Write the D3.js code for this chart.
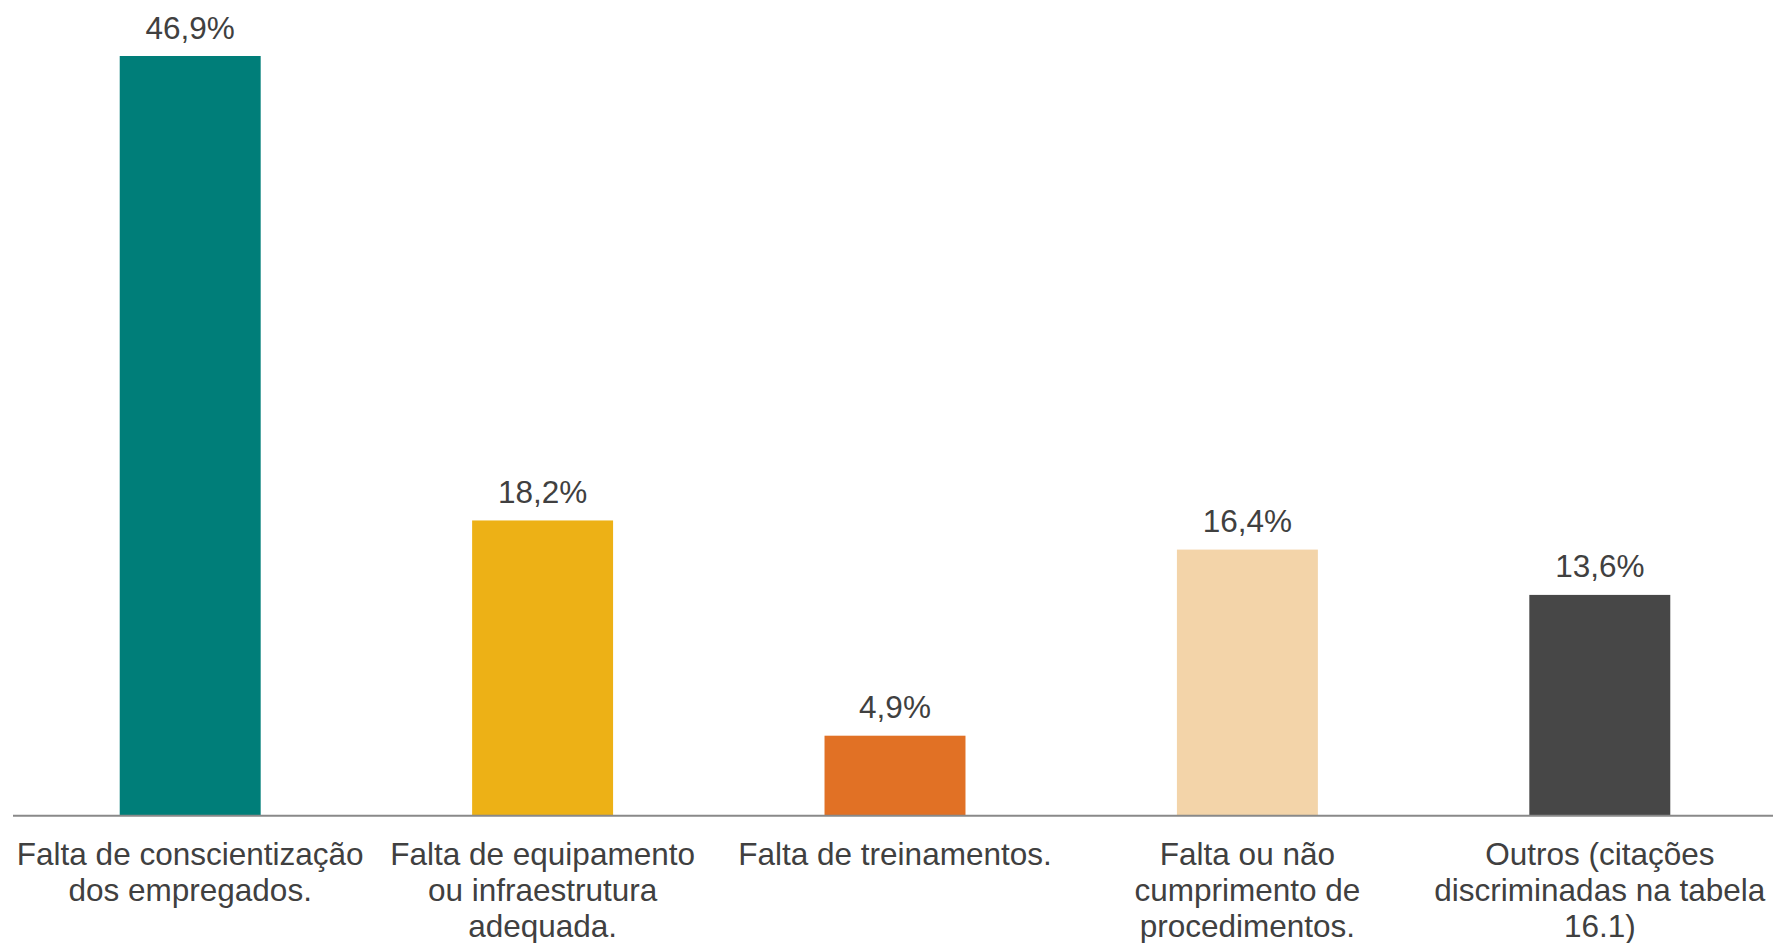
<!DOCTYPE html>
<html>
<head>
<meta charset="utf-8">
<script src="https://cdn.jsdelivr.net/npm/d3@7"></script>
<style>
  html, body { margin: 0; padding: 0; background: #ffffff; }
  svg { display: block; }
  text { font-family: "Liberation Sans", Arial, sans-serif; }
</style>
</head>
<body>
<script>
// ---- data ----
const categories = [
  ["Falta de conscientização", "dos empregados."],
  ["Falta de equipamento", "ou infraestrutura", "adequada."],
  ["Falta de treinamentos."],
  ["Falta ou não", "cumprimento de", "procedimentos."],
  ["Outros (citações", "discriminadas na tabela", "16.1)"]
];
const values = [46.9, 18.2, 4.9, 16.4, 13.6];
const valueLabels = ["46,9%", "18,2%", "4,9%", "16,4%", "13,6%"];
const colors = ["#007E79", "#EDB116", "#E17125", "#F3D4A9", "#474747"];

// ---- layout ----
const W = 1773, H = 943;
const baseY = 815;
const svg = d3.select("body").append("svg").attr("width", W).attr("height", H);

const idx = d3.range(values.length);
const x = d3.scaleBand().domain(idx).range([14, 1776])
  .paddingInner(0.6).paddingOuter(0.3);
const y = d3.scaleLinear().domain([0, 46.9]).range([baseY, 56]);

// bars
svg.selectAll("rect.bar").data(idx).enter().append("rect")
  .attr("class", "bar")
  .attr("x", i => x(i))
  .attr("width", x.bandwidth())
  .attr("y", i => y(values[i]))
  .attr("height", i => y(0) - y(values[i]))
  .attr("fill", i => colors[i]);

// axis line
svg.append("line")
  .attr("x1", 13).attr("x2", W)
  .attr("y1", baseY + 0.8).attr("y2", baseY + 0.8)
  .attr("stroke", "#898989").attr("stroke-width", 2);

// value labels
svg.selectAll("text.val").data(idx).enter().append("text")
  .attr("class", "val")
  .attr("x", i => x(i) + x.bandwidth() / 2)
  .attr("y", i => y(values[i]) - 17.5)
  .attr("text-anchor", "middle")
  .attr("font-size", "31.5px")
  .attr("fill", "#404040")
  .text(i => valueLabels[i]);

// category labels
const cat = svg.selectAll("text.cat").data(idx).enter().append("text")
  .attr("class", "cat")
  .attr("text-anchor", "middle")
  .attr("font-size", "31.5px")
  .attr("fill", "#404040");
cat.each(function(i) {
  const t = d3.select(this);
  categories[i].forEach((line, k) => {
    t.append("tspan")
      .attr("x", x(i) + x.bandwidth() / 2)
      .attr("y", 865 + k * 36)
      .text(line);
  });
});
</script>
</body>
</html>
